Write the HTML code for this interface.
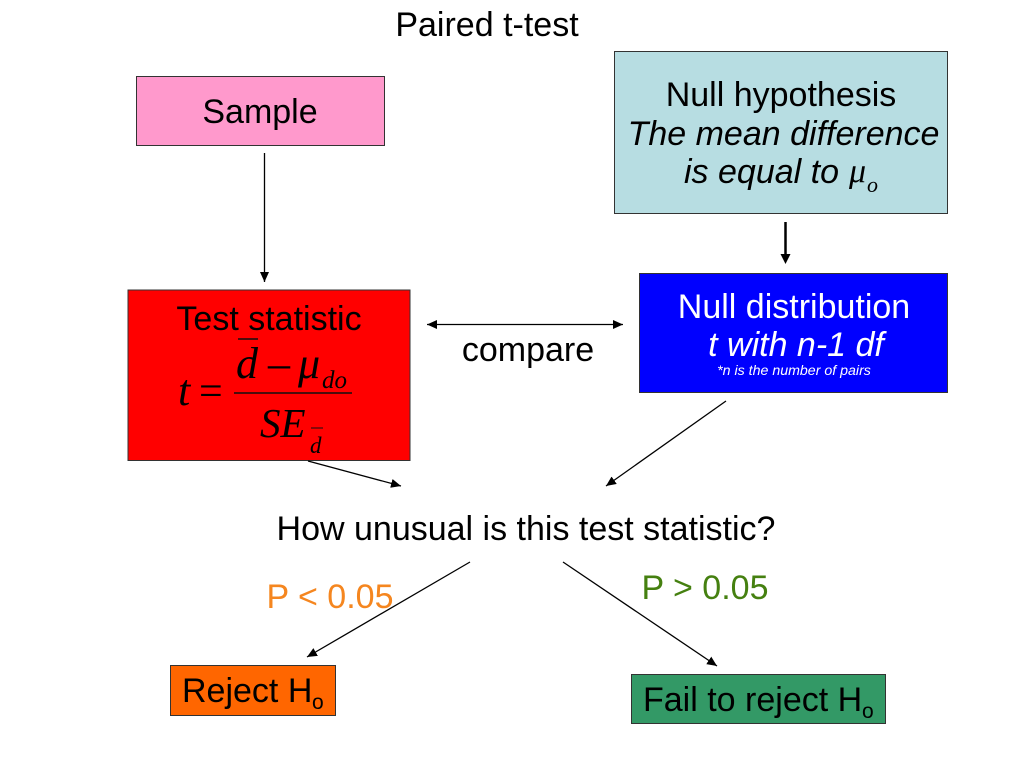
<!DOCTYPE html>
<html>
<head>
<meta charset="utf-8">
<style>
html,body{margin:0;padding:0;background:#fff}
svg{display:block}
text{font-family:"Liberation Sans",sans-serif;font-size:34px;fill:#000}
.c{text-anchor:middle}
.m{font-family:"Liberation Serif",serif;font-style:italic}
</style>
</head>
<body>
<svg width="1024" height="768" viewBox="0 0 1024 768" xmlns="http://www.w3.org/2000/svg">
<defs>
<marker id="a" markerUnits="userSpaceOnUse" markerWidth="11" markerHeight="10" refX="10" refY="4.500" orient="auto-start-reverse"><path d="M0 0L10 4.500L0 9Z" fill="#000"/></marker>
</defs>
<rect width="1024" height="768" fill="#fff"/>
<text x="487" y="36" class="c">Paired t-test</text>

<rect x="136.500" y="76.500" width="248" height="69" fill="#ff99cc" stroke="#333"/>
<text x="260" y="123" class="c">Sample</text>

<rect x="614.500" y="51.500" width="333" height="162" fill="#b7dde2" stroke="#333"/>
<text x="781" y="106" class="c">Null hypothesis</text>
<text x="783.500" y="145" class="c" font-style="italic">The mean difference</text>
<text x="761.500" y="183" class="c" font-style="italic">is equal to</text>
<text x="849" y="182" class="m" style="font-size:34px">μ</text>
<text x="867" y="192" class="m" style="font-size:22px">o</text>

<rect x="128" y="290" width="282" height="170.500" fill="#ff0000" stroke="#333"/>
<text x="269" y="330" class="c">Test statistic</text>
<line x1="238" y1="339" x2="258" y2="339" stroke="#111" stroke-width="1.500"/>
<text x="178" y="405" class="m" style="font-size:44px">t</text>
<text x="199" y="405" class="m" style="font-size:42px;font-style:normal">=</text>
<text x="236" y="378" class="m" style="font-size:44px">d</text>
<text x="268" y="378" class="m" style="font-size:44px;font-style:normal">–</text>
<text x="298" y="378" class="m" style="font-size:44px">μ</text>
<text x="322" y="388" class="m" style="font-size:25px">do</text>
<line x1="234" y1="393" x2="352" y2="393" stroke="#111" stroke-width="1.500"/>
<text x="260" y="437" class="m" style="font-size:41px">SE</text>
<text x="310" y="453" class="m" style="font-size:23px">d</text>
<line x1="311" y1="428" x2="323" y2="428" stroke="#111" stroke-width="1"/>

<rect x="639.500" y="273.500" width="308" height="119" fill="#0000ff" stroke="#333"/>
<text x="794" y="318" class="c" style="fill:#fff">Null distribution</text>
<text x="796" y="356" class="c" style="fill:#fff;font-style:italic">t with n-1 df</text>
<text x="794" y="375" class="c" style="fill:#fff;font-style:italic;font-size:14.200px">*n is the number of pairs</text>

<text x="528" y="361" class="c">compare</text>
<text x="526" y="540" class="c">How unusual is this test statistic?</text>
<text x="330" y="608" class="c" style="fill:#f5861f">P &lt; 0.05</text>
<text x="705" y="599" class="c" style="fill:#458010">P &gt; 0.05</text>

<rect x="170.500" y="665.500" width="165" height="50" fill="#ff6600" stroke="#333"/>
<text x="182" y="702">Reject H</text>
<text x="312" y="709" style="font-size:21px">o</text>

<rect x="631.500" y="674.500" width="254" height="49" fill="#339966" stroke="#333"/>
<text x="643" y="711">Fail to reject H</text>
<text x="862" y="718" style="font-size:21px">o</text>

<g stroke="#000" stroke-width="1.300" fill="none">
<line x1="264.500" y1="153" x2="264.500" y2="282" marker-end="url(#a)"/>
<line x1="785.500" y1="222" x2="785.500" y2="257" stroke-width="2.500"/>
<line x1="427" y1="324.500" x2="623" y2="324.500" marker-start="url(#a)" marker-end="url(#a)"/>
<line x1="308" y1="461" x2="401" y2="486" marker-end="url(#a)"/>
<line x1="726" y1="401" x2="606" y2="486" marker-end="url(#a)"/>
<line x1="470" y1="562" x2="307" y2="657" marker-end="url(#a)"/>
<line x1="563" y1="562" x2="717" y2="666" marker-end="url(#a)"/>
</g>
<path d="M780.500 254L790.500 254L785.500 264Z" fill="#000"/>
</svg>
</body>
</html>
